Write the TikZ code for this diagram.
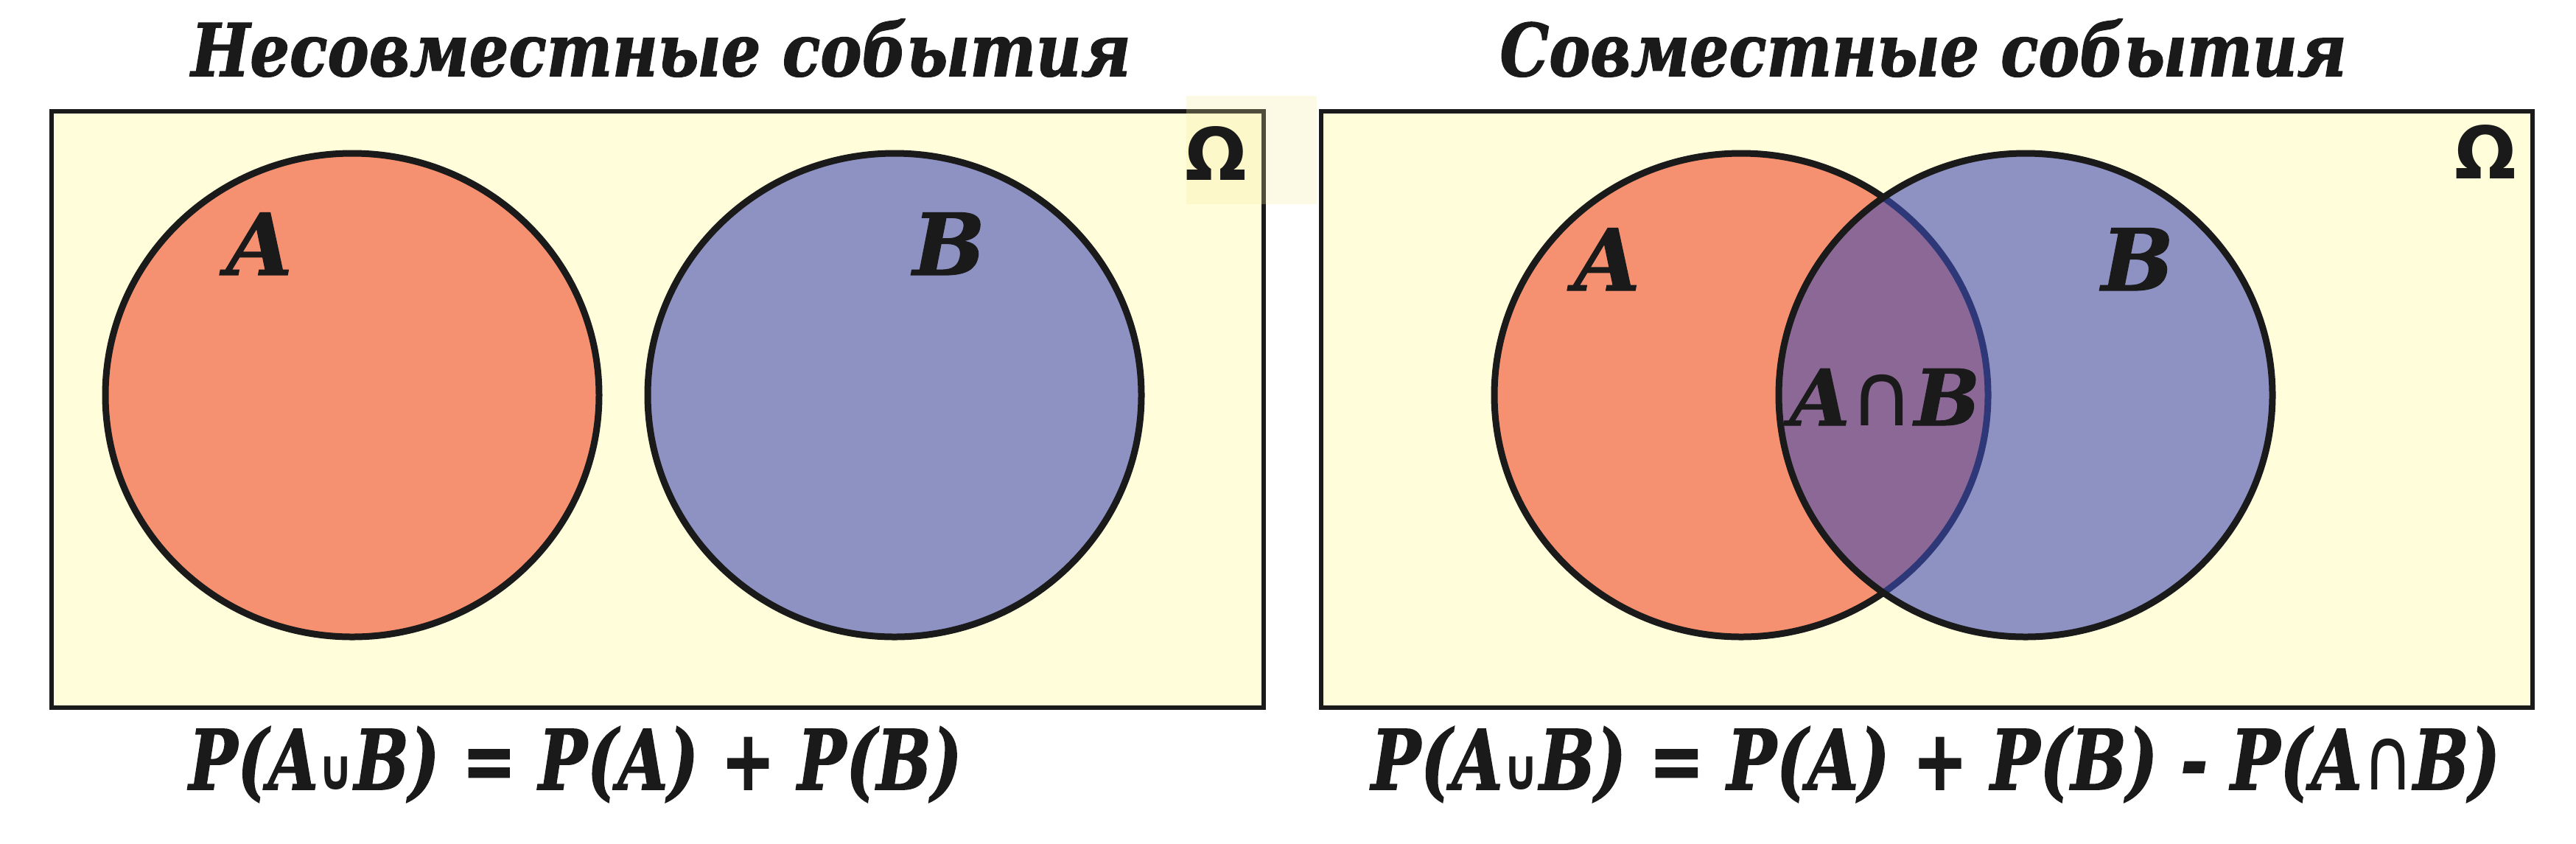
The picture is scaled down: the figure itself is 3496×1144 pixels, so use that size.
\documentclass[tikz,border=0pt]{standalone}
\usepackage{fontspec}
\usepackage{graphicx}
\setmainfont{DejaVu Serif}
\newfontfamily\slab[BoldItalicFeatures={FakeBold=1.6}]{DejaVu Serif}
\newfontfamily\slabL[BoldItalicFeatures={FakeBold=1.0}]{DejaVu Serif}
\newfontfamily\symsans{DejaVu Sans}
\definecolor{bgY}{HTML}{FFFDDA}
\definecolor{ovY}{HTML}{F5EC9A}
\definecolor{salmon}{HTML}{F59170}
\definecolor{lav}{HTML}{8E92C2}
\definecolor{purp}{HTML}{8B6896}
\definecolor{navy}{HTML}{2E3778}
\definecolor{ink}{HTML}{1A1A1A}
\newcommand\cupS{{\symsans\bfseries\upshape\fontsize{22pt}{22pt}\selectfont ∪}}
\newcommand\capS{{\symsans\mdseries\upshape\fontsize{34pt}{34pt}\selectfont ∩}}
\tikzset{
  panel/.style={draw=ink, line width=0.6mm, fill=bgY},
  setline/.style={draw=ink, line width=0.9mm},
  rad/.style={x radius=33.5mm, y radius=32.8mm},
  titlef/.style={inner sep=0pt, anchor=base, text=ink,
    font=\slab\bfseries\itshape\fontsize{28pt}{30pt}\selectfont},
  formf/.style={inner sep=0pt, anchor=base, text=ink,
    font=\slab\bfseries\itshape\fontsize{32pt}{34pt}\selectfont},
  labf/.style={inner sep=0pt, anchor=base, text=ink,
    font=\slabL\bfseries\itshape\fontsize{33pt}{36pt}\selectfont},
  omf/.style={inner sep=0pt, anchor=base, text=ink,
    font=\symsans\bfseries\fontsize{28pt}{30pt}\selectfont},
}
\begin{document}
\begin{tikzpicture}[x=0.1mm, y=-0.1mm]
\useasboundingbox (0,0) rectangle (3496,1144);
\fill[white] (0,0) rectangle (3496,1144);
% panels
\draw[panel] (70,151) rectangle (1715,960);
\draw[panel] (1793,151) rectangle (3437,960);
% left: incompatible events
\draw[setline, fill=salmon] (478,536) ellipse [rad];
\draw[setline, fill=lav] (1214,536) ellipse [rad];
% right: compatible events
\draw[setline, fill=salmon] (2363,536) ellipse [rad];
\fill[lav] (2749,536) ellipse [rad];
\begin{scope}
  \clip (2749,536) ellipse [rad];
  \fill[purp] (2363,536) ellipse [rad];
  \draw[navy, line width=0.9mm] (2363,536) ellipse [rad];
\end{scope}
\draw[setline] (2749,536) ellipse [rad];
% faint overlay near left Omega
\fill[ovY, opacity=0.25] (1610,130) rectangle (1787,277);
% titles
\node[titlef] (t1) at (897,103) {\resizebox{127.5mm}{\height}{Несовместные события}};
\node[titlef] (t2) at (2610,103) {\resizebox{114.9mm}{\height}{Совместные события}};
% omegas
\node[omf] (om1) at (1650,244) {Ω};
\node[omf] (om2) at (3373,242) {Ω};
% set labels
\node[labf] (la1) at (352,373) {A};
\node[labf] (lb1) at (1288,373) {B};
\node[labf] (la2) at (2181,394) {A};
\node[labf] (lb2) at (2901,394) {B};
\node[labf, font=\slabL\bfseries\itshape\fontsize{30pt}{32pt}\selectfont] (lab) at (2558,577) {A\capS B};
% formulas
\node[formf] (f1) at (781,1071) {\resizebox{104.9mm}{\height}{P(A\cupS B) = P(A) + P(B)}};
\node[formf] (f2) at (2627,1071) {\resizebox{153.2mm}{\height}{P(A\cupS B) = P(A) + P(B) - P(A\capS B)}};
\end{tikzpicture}
\end{document}
